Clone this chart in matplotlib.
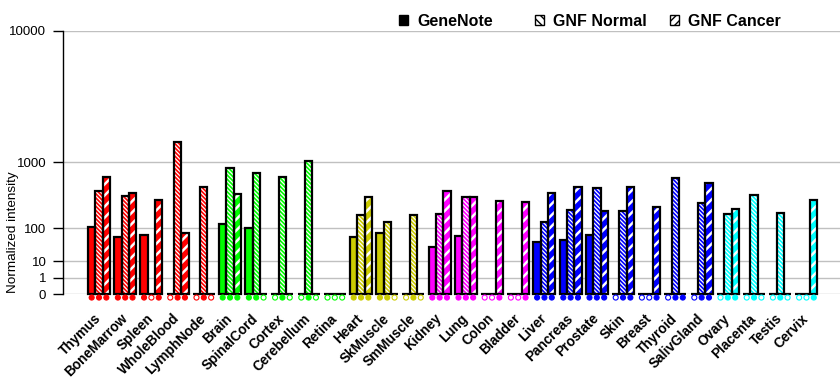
import numpy as np
import matplotlib
matplotlib.use('Agg')
import matplotlib.pyplot as plt
from matplotlib.patches import Patch

plt.rcParams['font.family'] = ['Liberation Sans', 'DejaVu Sans']

# 1. Data
tissues = ['Thymus', 'BoneMarrow', 'Spleen', 'WholeBlood', 'LymphNode',
           'Brain', 'SpinalCord', 'Cortex', 'Cerebellum', 'Retina',
           'Heart', 'SkMuscle', 'SmMuscle',
           'Kidney', 'Lung', 'Colon', 'Bladder',
           'Liver', 'Pancreas', 'Prostate', 'Skin', 'Breast', 'Thyroid', 'SalivGland',
           'Ovary', 'Placenta', 'Testis', 'Cervix']
systems = (['immune'] * 5 + ['nervous'] * 5 + ['muscle'] * 3 + ['epithelial'] * 4
           + ['glandular'] * 7 + ['reproductive'] * 4)

genenote = [105, 62, 70, 0, 0, 123, 101, 0, 0, 0, 62, 78, 0, 33,
            66, 0, 0, 46, 53, 70, 0, 0, 0, 0, 0, 0, 0, 0]
gnf_normal = [444, 376, 0, 1620, 504, 868, 745, 679, 1039, 0, 184, 135, 184, 192,
              364, 0, 0, 131, 226, 489, 211, 0, 658, 288, 192, 389, 200, 0]
gnf_cancer = [679, 408, 327, 78, 0, 402, 0, 0, 0, 0, 364, 0, 0, 444,
              364, 316, 305, 408, 504, 211, 504, 253, 0, 559, 235, 0, 0, 327]

# detection calls shown as filled / open dots under each bar
called_gn = [1, 1, 1, 0, 0, 1, 1, 0, 0, 0, 1, 1, 0, 1, 1, 0, 0, 1, 1, 1, 0, 0, 0, 0, 0, 0, 0, 0]
called_nm = [1, 1, 0, 1, 1, 1, 1, 1, 1, 0, 1, 1, 1, 1, 1, 0, 0, 1, 1, 1, 1, 0, 1, 1, 1, 1, 1, 0]
called_ca = [1, 1, 1, 1, 0, 1, 0, 0, 0, 0, 1, 0, 0, 1, 1, 1, 1, 1, 1, 1, 1, 1, 1, 1, 1, 0, 0, 1]

yticks = [0, 1, 10, 100, 1000, 10000]
legend_labels = ['GeneNote', 'GNF Normal', 'GNF Cancer']

system_colors = {'immune': '#ff0000', 'nervous': '#00ff00', 'muscle': '#cccc00',
                 'epithelial': '#ff00ff', 'glandular': '#0000ff', 'reproductive': '#00ffff'}
colors = [system_colors[s] for s in systems]

# 2. Figure
fig = plt.figure(figsize=(8.4, 3.85), dpi=100)
ax = fig.add_axes([0.075, 0.236, 0.925, 0.6835])

fwd = lambda v: np.sign(v) * np.abs(v) ** 0.3
inv = lambda v: np.sign(v) * np.abs(v) ** (1 / 0.3)
ax.set_yscale('function', functions=(fwd, inv))

x = np.arange(len(tissues))
w = 0.28
series = [(genenote, called_gn, -w, None, 0),
          (gnf_normal, called_nm, 0, '\\\\\\\\\\\\\\\\', 0.9),
          (gnf_cancer, called_ca, w, '///', 1.8)]

for vals, called, off, hatch, hlw in series:
    if hatch is None:
        ax.bar(x + off, vals, w, color=colors, linewidth=0, zorder=2)
    else:
        with plt.rc_context({'hatch.linewidth': hlw}):
            ax.bar(x + off, vals, w, color=colors, edgecolor='white', hatch=hatch,
                   linewidth=0, zorder=2)
    ax.bar(x + off, vals, w, fill=False, edgecolor='black', linewidth=1.6,
           zorder=3, clip_on=False)
    fc = [c if f else 'white' for c, f in zip(colors, called)]
    ax.scatter(x + off, [-0.013] * len(x), s=13, marker='o', facecolors=fc,
               edgecolors=colors, linewidths=0.8, transform=ax.get_xaxis_transform(),
               clip_on=False, zorder=4)

ax.set_xlim(-1.374, 28.28)
ax.set_ylim(0, 10000)
ax.set_yticks(yticks)
ax.set_yticklabels([str(t) for t in yticks], fontsize=9.5)
ax.yaxis.grid(True, color='#c0c0c0', linewidth=1)
ax.set_axisbelow(True)
ax.tick_params(axis='y', length=7, width=1, pad=5)
ax.set_xticks(x)
ax.set_xticklabels(tissues, rotation=45, ha='right', va='center',
                   rotation_mode='anchor', fontsize=9.8, fontweight='bold')
ax.tick_params(axis='x', length=0, pad=16)

for s in ['top', 'right', 'bottom']:
    ax.spines[s].set_visible(False)
ax.spines['left'].set_linewidth(1)

ax.set_ylabel('Normalized intensity', fontsize=9.7)
ax.yaxis.set_label_coords(-0.057, 0.236)

# 3. Legend: one entry per slot, evenly spaced like the original
handles = [Patch(facecolor='black', edgecolor='black'),
           Patch(facecolor='white', edgecolor='black', hatch='\\\\\\\\'),
           Patch(facecolor='white', edgecolor='black', hatch='////')]
for h, lab, xa in zip(handles, legend_labels, [0.475, 0.637, 0.7976]):
    fig.legend([h], [lab], loc='center left', bbox_to_anchor=(xa, 0.945),
               frameon=False, prop={'size': 11.5, 'weight': 'bold'},
               handlelength=0.55, handleheight=0.55, handletextpad=0.6,
               borderaxespad=0, borderpad=0)

plt.savefig('out.png', dpi=100)
